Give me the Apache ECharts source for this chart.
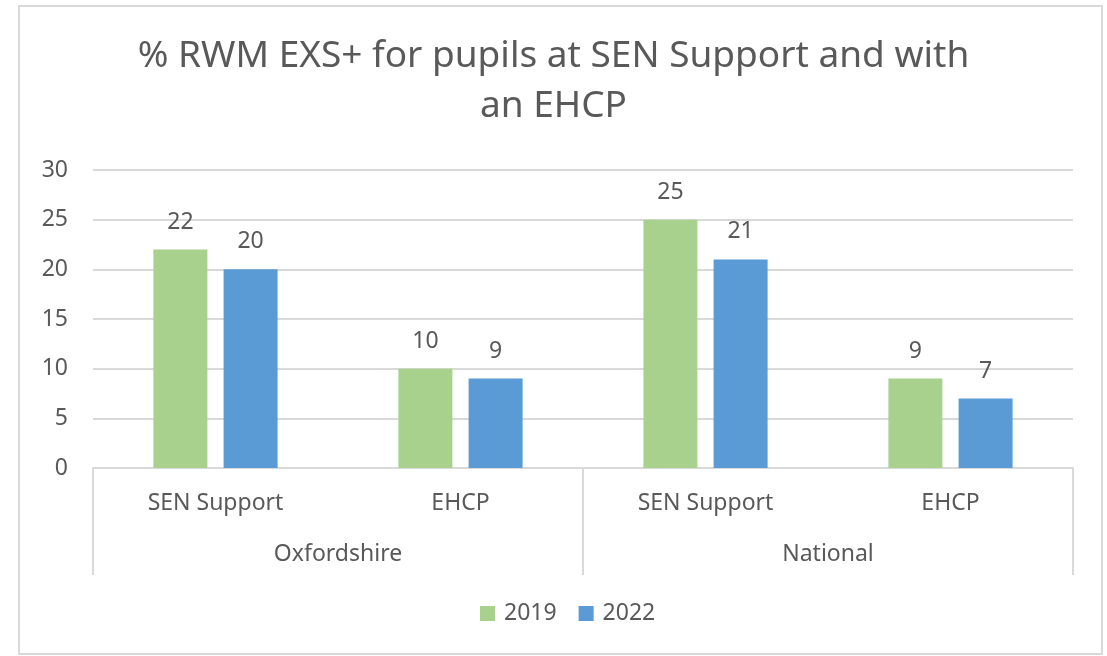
<!DOCTYPE html>
<html>
<head>
<meta charset="utf-8">
<script src="https://cdn.jsdelivr.net/npm/echarts@6/dist/echarts.min.js"></script>
<style>
  html,body{margin:0;padding:0;background:#fff;}
  #main{width:1107px;height:656px;}
</style>
</head>
<body>
<div id="main"></div>
<script>
// data
const subCategories = ['SEN Support', 'EHCP', 'SEN Support', 'EHCP']
const groups = ['Oxfordshire', 'National']
const values2019 = [22, 10, 25, 9]
const values2022 = [20, 9, 21, 7]
const yTicks = [0, 5, 10, 15, 20, 25, 30]

const textColor = '#595959'
const font = 'Noto Sans'

const chart = echarts.init(document.getElementById('main'))
const option = {
  backgroundColor: '#fff',
  textStyle: {fontFamily: font},
  title: {
    text: '% RWM EXS+ for pupils at SEN Support and with\nan EHCP',
    left: 'center',
    top: 26,
    padding: [5, 5, 5, 19],
    textStyle: {
      fontFamily: font,
      fontSize: 37,
      fontWeight: 'normal',
      color: textColor,
      lineHeight: 50
    }
  },
  graphic: [{
    type: 'rect',
    shape: {x: 19, y: 6, width: 1083, height: 648},
    style: {fill: 'none', stroke: '#d9d9d9', lineWidth: 2},
    silent: true
  }],
  legend: {
    bottom: 26,
    left: 475,
    itemWidth: 15,
    itemHeight: 15,
    itemGap: 22,
    icon: 'rect',
    textStyle: {fontFamily: font, fontSize: 23, color: textColor, padding: [0, 0, 0, 4]}
  },
  grid: {left: 93, right: 34, top: 170, bottom: 188},
  xAxis: [{
    type: 'category',
    data: subCategories,
    position: 'bottom',
    axisLine: {lineStyle: {color: '#d9d9d9', width: 2}},
    axisTick: {show: false},
    axisLabel: {fontFamily: font, fontSize: 23, color: textColor, margin: 24}
  }, {
    type: 'category',
    data: groups,
    position: 'bottom',
    axisLine: {show: false},
    axisTick: {show: true, length: 107, lineStyle: {color: '#d9d9d9', width: 2}},
    axisLabel: {fontFamily: font, fontSize: 23, color: textColor, margin: 75}
  }],
  yAxis: {
    type: 'value',
    min: yTicks[0],
    max: yTicks[yTicks.length - 1],
    interval: 5,
    axisLine: {show: false},
    axisTick: {show: false},
    splitLine: {lineStyle: {color: '#d9d9d9', width: 2}},
    axisLabel: {fontFamily: font, fontSize: 23, color: textColor, margin: 25}
  },
  series: [{
    name: '2019',
    type: 'bar',
    xAxisIndex: 0,
    data: values2019,
    barWidth: 54,
    barGap: '30%',
    itemStyle: {color: '#a9d18e'},
    label: {show: true, position: 'top', distance: 16, fontFamily: font, fontSize: 23, color: textColor}
  }, {
    name: '2022',
    type: 'bar',
    xAxisIndex: 0,
    data: values2022,
    barWidth: 54,
    barGap: '30%',
    itemStyle: {color: '#5b9bd5'},
    label: {show: true, position: 'top', distance: 16, fontFamily: font, fontSize: 23, color: textColor}
  }]
}
chart.setOption(option)
</script>
</body>
</html>
